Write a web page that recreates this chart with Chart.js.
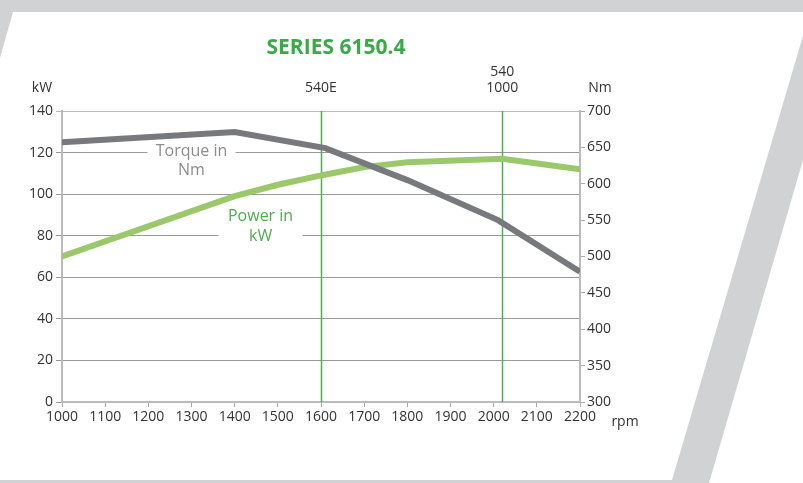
<!DOCTYPE html>
<html>
<head>
<meta charset="utf-8">
<script src="https://cdn.jsdelivr.net/npm/chart.js@4.4.1/dist/chart.umd.min.js"></script>
<style>
  html, body { margin: 0; padding: 0; background: #d1d2d4; }
  canvas { display: block; }
</style>
</head>
<body>
<canvas id="engineChart" width="803" height="483"></canvas>
<script>
// engine curve data
var powerRpm = [1000, 1400, 1500, 1600, 1650, 1700, 1800, 2020, 2200];
var powerKw = [70, 99, 104.5, 109, 111, 113, 115.3, 117, 112];
var torqueRpm = [1000, 1400, 1610, 1800, 2010, 2200];
var torqueNm = [657, 671, 649, 605, 550, 479];

// pto speed markers
var markerRpm = [1600, 2020];
var markerLabels = [["540E"], ["540", "1000"]];

var FONT = '"Open Sans", "Noto Sans", sans-serif';

function toPoints(xs, ys) {
  return xs.map(function (x, i) { return { x: x, y: ys[i] }; });
}

// grey page with the white slanted card
var backgroundPlugin = {
  id: 'cardBackground',
  beforeDraw: function (chart) {
    var ctx = chart.ctx;
    ctx.save();
    ctx.fillStyle = '#d1d2d4';
    ctx.fillRect(0, 0, chart.width, chart.height);
    ctx.fillStyle = '#ffffff';
    ctx.beginPath();
    ctx.moveTo(13, 12);
    ctx.lineTo(810, 12);
    ctx.lineTo(672, 480);
    ctx.lineTo(0, 480);
    ctx.lineTo(0, 58);
    ctx.closePath();
    ctx.fill();
    ctx.beginPath();
    ctx.moveTo(803, 160);
    ctx.lineTo(803, 483);
    ctx.lineTo(709, 483);
    ctx.closePath();
    ctx.fill();
    ctx.restore();
  }
};

// labels, marker lines and gaps in the grid behind the series names
var labelsPlugin = {
  id: 'extraLabels',
  beforeDatasetsDraw: function (chart) {
    var ctx = chart.ctx;
    var area = chart.chartArea;
    var x = chart.scales.x, y = chart.scales.y;
    ctx.save();
    // white gaps behind the in-chart labels
    ctx.fillStyle = '#ffffff';
    ctx.fillRect(x.getPixelForValue(1300) - 44, y.getPixelForValue(120) - 3, 88, 6);
    ctx.fillRect(x.getPixelForValue(1460) - 42, y.getPixelForValue(80) - 3, 84, 6);
    // vertical marker lines
    ctx.strokeStyle = '#4cb050';
    ctx.lineWidth = 1.5;
    markerRpm.forEach(function (r) {
      var px = Math.round(x.getPixelForValue(r)) + 0.5;
      ctx.beginPath();
      ctx.moveTo(px, area.top);
      ctx.lineTo(px, area.bottom);
      ctx.stroke();
    });
    ctx.restore();
  },
  afterDraw: function (chart) {
    var ctx = chart.ctx;
    var area = chart.chartArea;
    var x = chart.scales.x, y = chart.scales.y;
    ctx.save();
    ctx.textAlign = 'center';
    ctx.textBaseline = 'middle';

    ctx.fillStyle = '#3aaa48';
    ctx.font = 'bold 21px ' + FONT;
    ctx.fillText('SERIES 6150.4', 336, 48);

    ctx.fillStyle = '#333333';
    ctx.font = '14px ' + FONT;
    ctx.fillText('kW', 42, 88);
    ctx.fillText('Nm', 600, 88);
    ctx.fillText('rpm', 625, 422);

    markerRpm.forEach(function (r, i) {
      var lines = markerLabels[i];
      var px = x.getPixelForValue(r);
      lines.forEach(function (t, j) {
        ctx.fillText(t, px, area.top - 23 - (lines.length - 1 - j) * 16);
      });
    });

    ctx.font = '16px ' + FONT;
    ctx.fillStyle = '#8c8c8c';
    var tx = x.getPixelForValue(1300), ty = y.getPixelForValue(120);
    ctx.fillText('Torque in', tx, ty - 1);
    ctx.fillText('Nm', tx, ty + 18);
    ctx.fillStyle = '#4cae4c';
    var px2 = x.getPixelForValue(1460), py2 = y.getPixelForValue(80);
    ctx.fillText('Power in', px2, py2 - 19);
    ctx.fillText('kW', px2, py2 + 1);
    ctx.restore();
  }
};

var tickFont = { size: 14, family: FONT };

var chart = new Chart(document.getElementById('engineChart').getContext('2d'), {
  type: 'line',
  data: {
    datasets: [
      {
        label: 'Torque in Nm',
        data: toPoints(torqueRpm, torqueNm),
        yAxisID: 'y2',
        borderColor: '#78797c',
        borderWidth: 6,
        pointRadius: 0,
        tension: 0
      },
      {
        label: 'Power in kW',
        data: toPoints(powerRpm, powerKw),
        yAxisID: 'y',
        borderColor: '#9cc86c',
        borderWidth: 6,
        pointRadius: 0,
        tension: 0
      }
    ]
  },
  options: {
    responsive: false,
    animation: false,
    devicePixelRatio: 1,
    layout: { padding: { left: 0, right: 163, top: 111, bottom: 51 } },
    plugins: {
      legend: { display: false },
      tooltip: { enabled: false },
      title: { display: false }
    },
    scales: {
      x: {
        type: 'linear',
        min: 1000,
        max: 2200,
        ticks: {
          stepSize: 100,
          color: '#333333',
          font: tickFont,
          padding: 2,
          maxRotation: 0,
          autoSkip: false,
          callback: function (v) { return String(v); }
        },
        grid: { drawOnChartArea: false, drawTicks: true, tickLength: 5, color: '#aaaaaa' },
        border: { color: '#bbbbbb', width: 2 },
        afterFit: function (s) { s.height = 30; }
      },
      y: {
        position: 'left',
        min: 0,
        max: 140,
        ticks: { stepSize: 20, color: '#333333', font: tickFont, padding: 3 },
        grid: {
          color: function (c) { return c.tick && c.tick.value === 140 ? '#bbbbbb' : '#999999'; },
          tickLength: 6
        },
        border: { color: '#bbbbbb', width: 2 },
        afterFit: function (s) { s.width = 62; }
      },
      y2: {
        position: 'right',
        min: 300,
        max: 700,
        ticks: { stepSize: 50, color: '#333333', font: tickFont, padding: 2 },
        grid: { drawOnChartArea: false, tickLength: 5, color: '#aaaaaa' },
        border: { color: '#bbbbbb', width: 2 },
        afterFit: function (s) { s.width = 60; }
      }
    }
  },
  plugins: [backgroundPlugin, labelsPlugin]
});
</script>
</body>
</html>
